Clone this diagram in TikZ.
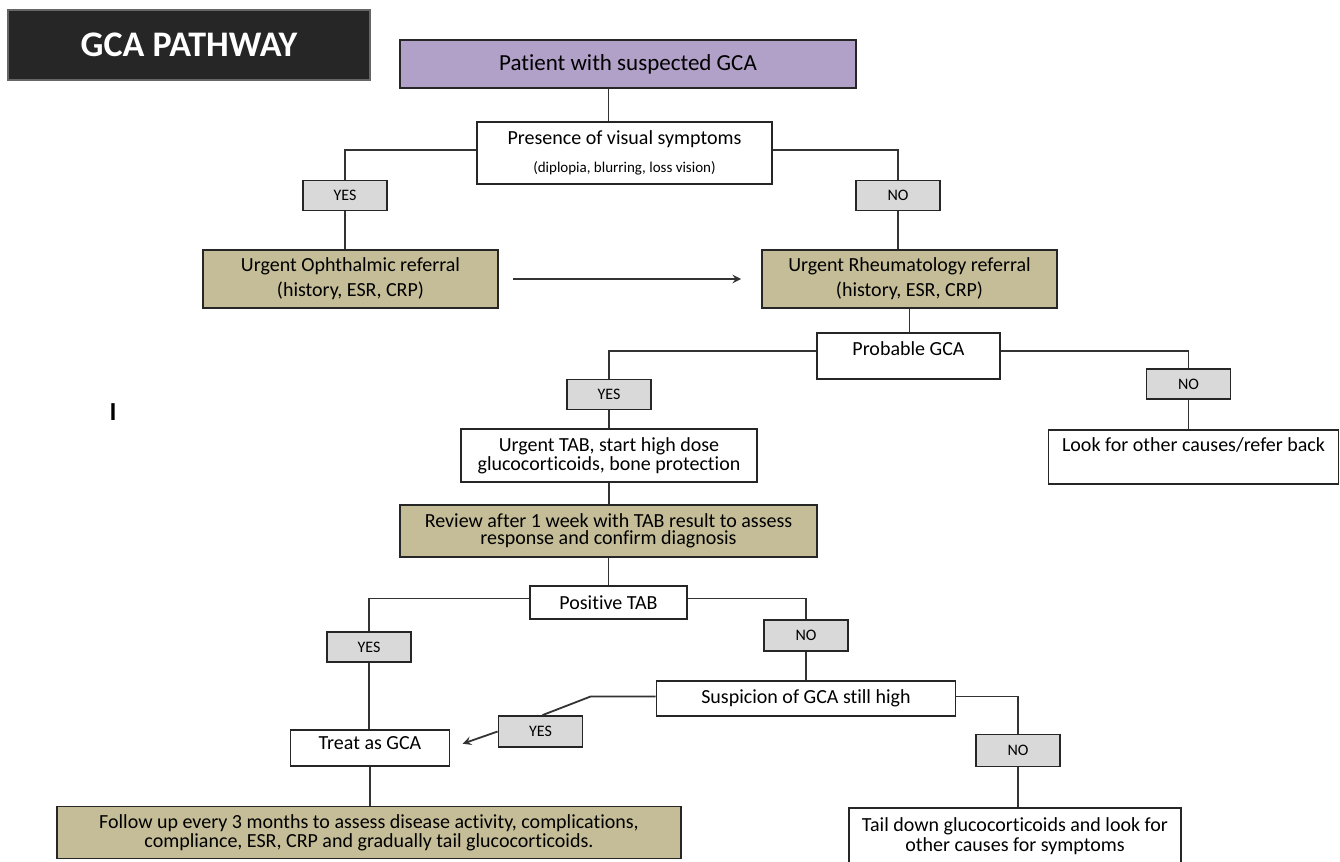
\documentclass[tikz,border=0pt]{standalone}
\usepackage{fontspec}
\setmainfont{Carlito}[Ligatures=NoCommon]
\usepackage{xcolor}
\usepackage{tikz}
\usetikzlibrary{shapes.geometric, arrows, positioning, calc}
\definecolor{headgray}{HTML}{262626}
\definecolor{lilac}{HTML}{B1A0C7}
\definecolor{khaki}{HTML}{C4BD97}
\definecolor{answergray}{HTML}{D9D9D9}
\tikzstyle{heading} = [rectangle, minimum width=181pt, minimum height=35pt, draw=black!60, line width=0.8pt, fill=headgray, text=white, font=\fontsize{18}{20}\selectfont\bfseries]
\tikzstyle{start} = [rectangle, draw=black!85, line width=0.9pt, fill=lilac, inner sep=0pt, font=\fontsize{11.5}{13}\selectfont]
\tikzstyle{question} = [rectangle, draw=black!85, line width=0.9pt, fill=white, inner sep=0pt, align=center, font=\fontsize{10}{12}\selectfont]
\tikzstyle{action} = [question, fill=khaki]
\tikzstyle{tight} = [font=\fontsize{10}{8.5}\selectfont]
\tikzstyle{answer} = [rectangle, draw=black!85, line width=0.9pt, fill=answergray, inner sep=0pt, minimum width=42pt, minimum height=15pt, font=\fontsize{8}{9}\selectfont]
\tikzstyle{line} = [draw=black!80, line width=0.9pt]
\tikzstyle{arrow} = [line, ->, >=stealth]

\begin{document}
\begin{tikzpicture}[x=0.5pt, y=-0.5pt]
        \useasboundingbox (0,0) rectangle (1340,862);

        \node (title) [heading] at (189,45) {GCA PATHWAY};
        \node (patient) [start, minimum width=228pt, minimum height=24pt] at (628,64) {Patient with suspected GCA};
        \node (visual) [question, minimum width=147.5pt, minimum height=31pt] at (624.5,153) {Presence of visual symptoms\\[2pt]{\fontsize{7.5}{9}\selectfont (diplopia, blurring, loss vision)}};
        \node (yes1) [answer] at (345,195.5) {YES};
        \node (no1) [answer] at (898,195.5) {NO};
        \node (ophth) [action, minimum width=147.5pt, minimum height=29pt] at (350.5,279) {Urgent Ophthalmic referral\\[0.5pt](history, ESR, CRP)};
        \node (rheum) [action, minimum width=147.5pt, minimum height=29pt] at (909.5,279) {Urgent Rheumatology referral\\[0.5pt](history, ESR, CRP)};
        \node (probable) [question, minimum width=91.5pt, minimum height=23pt, text height=7pt, text depth=8pt] at (908.5,356) {Probable GCA};
        \node (yes2) [answer] at (609,394.5) {YES};
        \node (no2) [answer] at (1188.5,384) {NO};
        \node (tab) [question, tight, minimum width=148pt, minimum height=26.5pt] at (609,455.5) {Urgent TAB, start high dose\\glucocorticoids, bone protection};
        \node (other) [question, minimum width=145pt, minimum height=27pt, text height=7pt, text depth=12.5pt] at (1193.5,457) {Look for other causes/refer back};
        \node (review) [action, tight, minimum width=208.5pt, minimum height=26pt] at (608.5,531) {Review after 1 week with TAB result to assess\\response and confirm diagnosis};
        \node (positive) [question, minimum width=78.5pt, minimum height=16.5pt] at (608.5,602.5) {Positive TAB};
        \node (yes3) [answer] at (369,647) {YES};
        \node (no3) [answer, minimum height=15.5pt] at (806,635.5) {NO};
        \node (suspicion) [question, minimum width=149.5pt, minimum height=17.5pt] at (806,698.5) {Suspicion of GCA still high};
        \node (yes4) [answer, minimum height=15.5pt] at (540.5,731.5) {YES};
        \node (treat) [question, minimum width=79.5pt, minimum height=18pt, text height=7pt, text depth=5.5pt] at (370,748) {Treat as GCA};
        \node (followup) [action, tight, minimum width=312pt, minimum height=26pt] at (369,832.5) {Follow up every 3 months to assess disease activity, complications,\\compliance, ESR, CRP and gradually tail glucocorticoids.};
        \node (no4) [answer, minimum height=16pt] at (1018,750.5) {NO};
        \node (taildown) [question, tight, minimum width=166pt, minimum height=28pt] at (1015,836) {Tail down glucocorticoids and look for\\other causes for symptoms};
        \node (mark) [font=\fontsize{13}{15}\selectfont\bfseries] at (113,412) {I};

        \draw [line] ([xshift=-8pt]visual.north) -- ([xshift=-8pt]visual.north |- patient.south);
        \draw [line] ([yshift=1.5pt]visual.west) -| (yes1.north);
        \draw [line] ([yshift=1.5pt]visual.east) -| (no1.north);
        \draw [line] (yes1.south) -- (yes1.south |- ophth.north);
        \draw [line] (no1.south) -- (no1.south |- rheum.north);
        \draw [arrow, shorten <=7pt, shorten >=10pt] (ophth) -- (rheum);
        \draw [line] (rheum.south) -- (rheum.south |- probable.north);
        \draw [line] ([yshift=2.5pt]probable.west) -| (yes2.north);
        \draw [line] ([yshift=2.5pt]probable.east) -| (no2.north);
        \draw [line] (yes2) -- (tab);
        \draw [line] (no2.south) -- (no2.south |- other.north);
        \draw [line] (tab.south) -- (tab.south |- review.north);
        \draw [line] (review.south) -- (review.south |- positive.north);
        \draw [line] ([yshift=2pt]positive.west) -| (yes3.north);
        \draw [line] ([yshift=2pt]positive.east) -| (no3.north);
        \draw [line] (yes3.south) -- (yes3.south |- treat.north);
        \draw [line] (no3) -- (suspicion);
        \draw [line] ([yshift=1pt]suspicion.west) -- ++(-65,0) -- ([xshift=1pt]yes4.north);
        \draw [arrow, shorten >=6.5pt] (yes4.west) -- (treat.east);
        \draw [line] (treat.south) -- (treat.south |- followup.north);
        \draw [line] ([yshift=1pt]suspicion.east) -| (no4.north);
        \draw [line] (no4.south) -- (no4.south |- taildown.north);
    \end{tikzpicture}
\end{document}
